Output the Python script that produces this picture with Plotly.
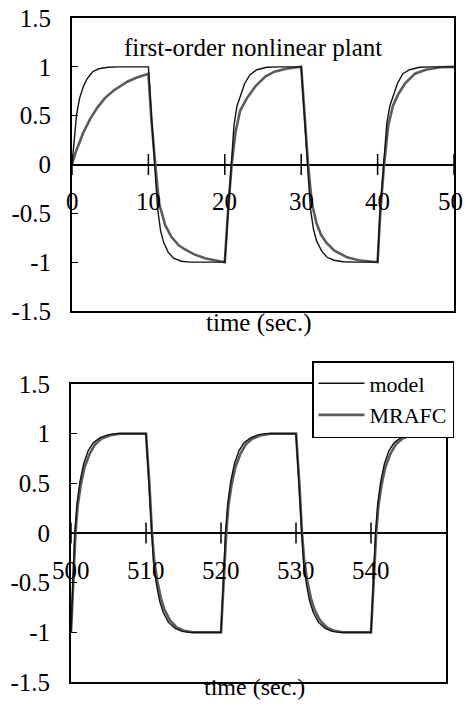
import plotly.graph_objects as go

# ---------------- data ----------------
top_t_model = [0, 0.3, 0.6, 1.0, 1.5, 2.0, 2.7, 3.5, 4.7, 6.0, 10.0,
               10.4, 10.8, 11.2, 11.6, 12.0, 12.6, 13.3, 14.3, 15.5, 20.0,
               20.4, 20.8, 21.2, 21.6, 22.0, 22.6, 23.3, 24.2, 25.5, 27.0, 30.0,
               30.4, 30.8, 31.2, 31.6, 32.0, 32.7, 33.4, 34.3, 35.5, 37.0, 40.0,
               40.3, 40.75, 41.2, 41.6, 42.1, 42.6, 43.3, 44.2, 45.5, 47.0, 50.0]
top_model = [0, 0.30, 0.51, 0.68, 0.80, 0.88, 0.95, 0.98, 0.995, 1.0, 1.0,
             0.5, 0.0, -0.45, -0.68, -0.80, -0.90, -0.96, -0.99, -1.0, -1.0,
             -0.5, 0.0, 0.40, 0.60, 0.70, 0.83, 0.92, 0.97, 0.995, 1.0, 1.0,
             0.5, 0.0, -0.45, -0.66, -0.78, -0.89, -0.95, -0.98, -0.995, -1.0, -1.0,
             -0.5, 0.0, 0.42, 0.60, 0.72, 0.83, 0.93, 0.97, 0.995, 1.0, 1.0]

top_t_mrafc = [0, 0.5, 1.0, 1.5, 2.4, 3.3, 4.3, 5.5, 7.3, 8.5, 10.0,
               10.4, 10.9, 11.4, 12.2, 13.0, 14.0, 14.8, 16.0, 17.4, 19.0, 20.0,
               20.4, 20.9, 21.4, 22.0, 22.9, 24.0, 25.3, 26.5, 28.0, 30.0,
               30.45, 30.9, 31.4, 32.0, 32.6, 33.3, 34.3, 36.0, 37.5, 40.0,
               40.35, 40.85, 41.4, 42.0, 42.7, 43.6, 44.9, 46.3, 48.2, 50.0]
top_mrafc = [0, 0.13, 0.23, 0.33, 0.47, 0.58, 0.68, 0.76, 0.85, 0.89, 0.93,
             0.45, 0.0, -0.40, -0.62, -0.74, -0.83, -0.87, -0.92, -0.96, -0.985, -1.0,
             -0.5, 0.0, 0.33, 0.55, 0.68, 0.80, 0.90, 0.95, 0.98, 1.0,
             0.5, 0.0, -0.40, -0.60, -0.72, -0.80, -0.88, -0.95, -0.98, -1.0,
             -0.5, 0.0, 0.40, 0.60, 0.72, 0.83, 0.93, 0.97, 0.995, 1.0]

bot_t_model = [500, 500.25, 500.5, 500.8, 501.2, 501.7, 502.3, 503.0, 503.9, 505.0, 506.0, 510.0,
               510.4, 510.7, 511.0, 511.4, 511.8, 512.3, 513.0, 513.9, 514.8, 515.8, 520.0,
               520.3, 520.6, 520.9, 521.3, 521.8, 522.4, 523.1, 524.0, 525.0, 526.0, 530.0,
               530.4, 530.7, 531.0, 531.4, 531.8, 532.3, 533.0, 533.9, 534.8, 535.8, 540.0,
               540.3, 540.6, 540.9, 541.3, 541.8, 542.4, 543.1, 544.0, 545.0, 546.0, 550.0]
bot_model = [-1.0, -0.5, 0.0, 0.30, 0.52, 0.70, 0.83, 0.91, 0.96, 0.99, 1.0, 1.0,
             0.5, 0.0, -0.30, -0.52, -0.68, -0.80, -0.90, -0.96, -0.99, -1.0, -1.0,
             -0.5, 0.0, 0.30, 0.52, 0.70, 0.83, 0.91, 0.96, 0.99, 1.0, 1.0,
             0.5, 0.0, -0.30, -0.52, -0.68, -0.80, -0.90, -0.96, -0.99, -1.0, -1.0,
             -0.5, 0.0, 0.30, 0.52, 0.70, 0.83, 0.91, 0.96, 0.99, 1.0, 1.0]

bot_t_mrafc = [500, 500.3, 500.6, 500.9, 501.3, 501.8, 502.5, 503.2, 504.1, 505.3, 506.5, 510.0,
               510.45, 510.8, 511.1, 511.5, 512.0, 512.5, 513.2, 514.1, 515.1, 516.3, 520.0,
               520.35, 520.7, 521.0, 521.4, 521.9, 522.6, 523.3, 524.2, 525.4, 526.6, 530.0,
               530.45, 530.8, 531.1, 531.5, 532.0, 532.5, 533.2, 534.1, 535.1, 536.3, 540.0,
               540.35, 540.7, 541.0, 541.4, 541.9, 542.6, 543.3, 544.2, 545.4, 546.6, 550.0]
bot_mrafc = [-1.0, -0.5, 0.0, 0.28, 0.48, 0.66, 0.80, 0.89, 0.95, 0.985, 1.0, 1.0,
             0.5, 0.0, -0.28, -0.48, -0.66, -0.78, -0.88, -0.95, -0.985, -1.0, -1.0,
             -0.5, 0.0, 0.28, 0.48, 0.66, 0.80, 0.89, 0.95, 0.985, 1.0, 1.0,
             0.5, 0.0, -0.28, -0.48, -0.66, -0.78, -0.88, -0.95, -0.985, -1.0, -1.0,
             -0.5, 0.0, 0.28, 0.48, 0.66, 0.80, 0.89, 0.95, 0.985, 1.0, 1.0]

top_xticks = [0, 10, 20, 30, 40, 50]
top_xlabels = ["0", "10", "20", "30", "40", "50"]
bot_xticks = [500, 510, 520, 530, 540]
bot_xlabels = ["500", "510", "520", "530", "540"]
y_ticks = [-1.5, -1, -0.5, 0, 0.5, 1, 1.5]
y_labels = ["-1.5", "-1", "-0.5", "0", "0.5", "1", "1.5"]
label_level = -0.38

title_text = "first-order nonlinear plant"
xlabel_text = "time (sec.)"

FONT = "Liberation Serif"
FS = 25
W, H = 465, 704


def fx(p):
    return p / W


def fy(p):
    return 1 - p / H


fig = go.Figure()


def add_panel(xa, ya, t_mod, y_mod, t_mr, y_mr, xt, show_leg):
    fig.add_trace(go.Scatter(x=t_mr, y=y_mr, mode="lines", name="MRAFC",
                             line=dict(color="#5c5c5c", width=2.6),
                             xaxis=xa, yaxis=ya, showlegend=show_leg, legendrank=2))
    fig.add_trace(go.Scatter(x=t_mod, y=y_mod, mode="lines", name="model",
                             line=dict(color="#111111", width=1.4),
                             xaxis=xa, yaxis=ya, showlegend=show_leg, legendrank=1))
    fig.add_trace(go.Scatter(x=xt, y=[0] * len(xt), mode="markers",
                             marker=dict(symbol="line-ns", size=15,
                                         line=dict(color="black", width=1.5)),
                             xaxis=xa, yaxis=ya, showlegend=False, hoverinfo="skip"))


add_panel("x", "y", top_t_model, top_model, top_t_mrafc, top_mrafc, top_xticks, False)
add_panel("x2", "y2", bot_t_model, bot_model, bot_t_mrafc, bot_mrafc, bot_xticks, True)

axis_common = dict(showline=True, linecolor="black", linewidth=2, mirror=True,
                   showgrid=False, automargin=False)
yaxis_common = dict(axis_common, range=[-1.5, 1.5], tickvals=y_ticks, ticktext=y_labels,
                    ticks="inside", ticklen=6, tickcolor="black", ticklabelstandoff=14,
                    ticklabeloverflow="allow",
                    zeroline=True, zerolinecolor="black", zerolinewidth=1.5,
                    tickfont=dict(family=FONT, size=FS, color="black"))

annotations = []
for xa, ya, ticks, labels in [("x", "y", top_xticks, top_xlabels),
                              ("x2", "y2", bot_xticks, bot_xlabels)]:
    for i, (tv, tl) in enumerate(zip(ticks, labels)):
        shift = -4 if (xa == "x" and i == len(ticks) - 1) else 0
        annotations.append(dict(text=tl, x=tv, y=label_level, xref=xa, yref=ya,
                                xshift=shift, showarrow=False,
                                font=dict(family=FONT, size=FS, color="black")))

annotations += [
    dict(text=title_text, x=0.475, y=0.952, xref="x domain", yref="y domain",
         showarrow=False, font=dict(family=FONT, size=FS, color="black")),
    dict(text=xlabel_text, x=0.49, y=0, xref="x domain", yref="y domain",
         yanchor="top", yshift=4, showarrow=False,
         font=dict(family=FONT, size=FS, color="black")),
    dict(text=xlabel_text, x=0.49, y=0, xref="x2 domain", yref="y2 domain",
         yanchor="middle", yshift=-5, showarrow=False,
         font=dict(family=FONT, size=24, color="black")),
]

fig.update_layout(
    template="none",
    width=W, height=H,
    margin=dict(l=0, r=0, t=0, b=0, pad=0, autoexpand=False),
    paper_bgcolor="white", plot_bgcolor="white",
    font=dict(family=FONT, size=FS, color="black"),
    xaxis=dict(axis_common, domain=[fx(72), fx(454)], range=[0, 50],
               showticklabels=False, ticks="", zeroline=False, anchor="y"),
    yaxis=dict(yaxis_common, domain=[fy(311), fy(18)], anchor="x"),
    xaxis2=dict(axis_common, domain=[fx(71), fx(446)], range=[500, 550],
                showticklabels=False, ticks="", zeroline=False, anchor="y2"),
    yaxis2=dict(yaxis_common, domain=[fy(682), fy(384)], anchor="x2"),
    legend=dict(x=fx(312), y=fy(361), xanchor="left", yanchor="top",
                bgcolor="white", bordercolor="black", borderwidth=1.5,
                font=dict(family=FONT, size=22, color="black"),
                traceorder="normal", itemwidth=46, tracegroupgap=0),
    showlegend=True,
    annotations=annotations,
)

fig.write_html("out.html",
               config={"displayModeBar": False},
               post_script="document.body.style.margin='0';")
